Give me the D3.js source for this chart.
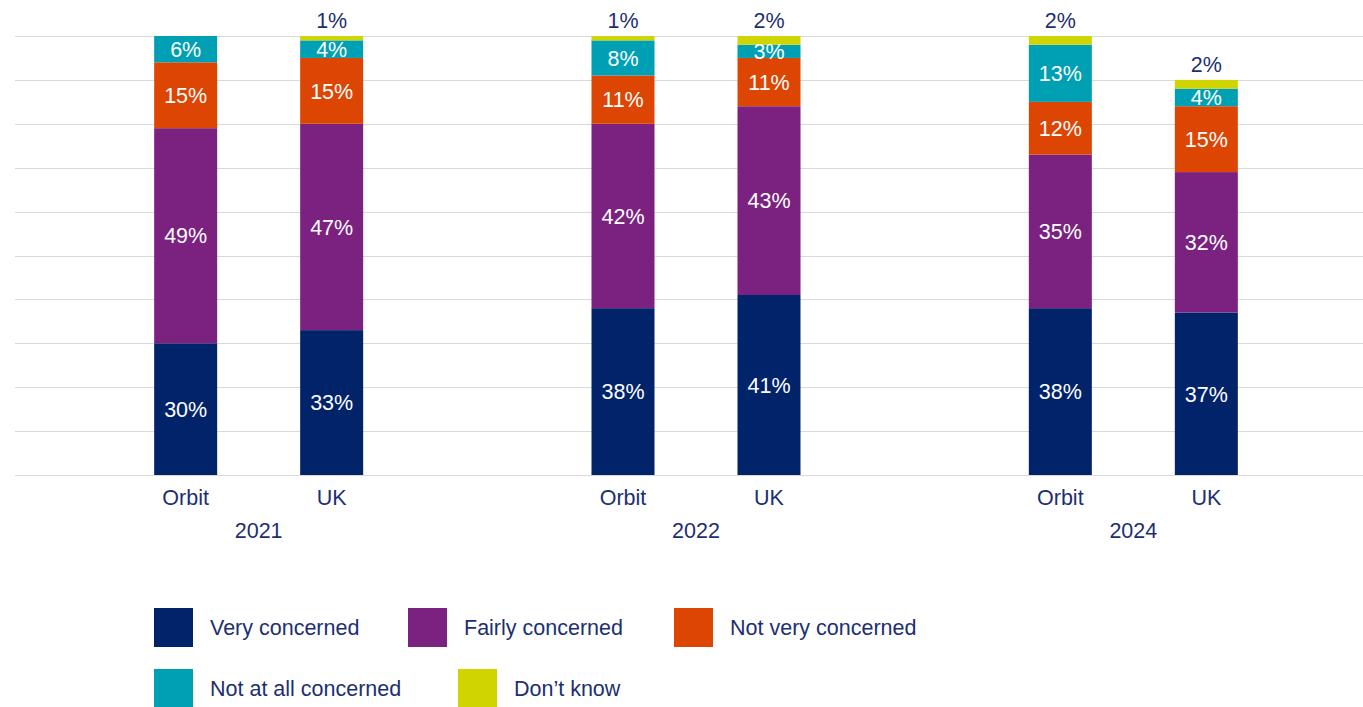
<!DOCTYPE html>
<html>
<head>
<meta charset="utf-8">
<script src="https://cdn.jsdelivr.net/npm/d3@7"></script>
<style>
  html, body { margin: 0; padding: 0; background: #fff; }
  svg { display: block; font-family: "Liberation Sans", Arial, Helvetica, sans-serif; }
</style>
</head>
<body>
<svg id="chart" width="1363" height="707"></svg>
<script>
// Survey responses by year and area (percent of respondents)
const years = ["2021", "2022", "2024"];
const areas = ["Orbit", "UK"];
const seriesNames = ["Very concerned", "Fairly concerned", "Not very concerned", "Not at all concerned", "Don\u2019t know"];
const seriesColors = ["#00236a", "#7b2180", "#dd4503", "#00a0b4", "#d0d400"];
const gridTicks = [0, 10, 20, 30, 40, 50, 60, 70, 80, 90, 100];

// One array per response, ordered 2021 Orbit, 2021 UK, 2022 Orbit, 2022 UK, 2024 Orbit, 2024 UK
const veryConcerned     = [30, 33, 38, 41, 38, 37];
const fairlyConcerned   = [49, 47, 42, 43, 35, 32];
const notVeryConcerned  = [15, 15, 11, 11, 12, 15];
const notAtAllConcerned = [6, 4, 8, 3, 13, 4];
const dontKnow          = [0, 1, 1, 2, 2, 2];

const seriesValues = [veryConcerned, fairlyConcerned, notVeryConcerned, notAtAllConcerned, dontKnow];

const rows = [];
years.forEach((yr, i) => areas.forEach((ar, j) => {
  const k = i * areas.length + j;
  const row = { year: yr, area: ar };
  seriesNames.forEach((s, si) => row[s] = seriesValues[si][k]);
  rows.push(row);
}));

const svg = d3.select("#chart");
const textColor = "#1c2f73";
const fontSize = 21.5;

const y = d3.scaleLinear().domain([0, 100]).range([475, 36]);
const x0 = d3.scaleBand().domain(years).range([40, 1352]).padding(0);
const x1 = d3.scalePoint().domain(areas).range([-73, 73]);
const barW = 63;
const color = d3.scaleOrdinal().domain(seriesNames).range(seriesColors);

// Horizontal gridlines
svg.append("g").selectAll("line").data(gridTicks).join("line")
  .attr("x1", 15).attr("x2", 1363)
  .attr("y1", d => Math.round(y(d)) + 0.5).attr("y2", d => Math.round(y(d)) + 0.5)
  .attr("stroke", "#d9d9d9").attr("stroke-width", 1);

const stacked = d3.stack().keys(seriesNames)(rows);
const cx = d => x0(d.data.year) + x0.bandwidth() / 2 + x1(d.data.area);

const layers = svg.append("g").selectAll("g").data(stacked).join("g")
  .attr("fill", d => color(d.key));

layers.selectAll("rect").data(d => d.filter(p => p[1] > p[0])).join("rect")
  .attr("x", d => cx(d) - barW / 2)
  .attr("width", barW)
  .attr("y", d => y(d[1]))
  .attr("height", d => y(d[0]) - y(d[1]));

// Value labels: inside segments, except "Don't know" which sits above the bar
const labels = svg.append("g").attr("font-size", fontSize).attr("text-anchor", "middle");
stacked.forEach(layer => {
  const isTop = layer.key === seriesNames[seriesNames.length - 1];
  layer.forEach(d => {
    const v = d[1] - d[0];
    if (v <= 0) return;
    labels.append("text")
      .attr("x", cx(d))
      .attr("y", isTop ? y(d[1]) - 8 : (y(d[0]) + y(d[1])) / 2)
      .attr("dy", isTop ? 0 : "0.36em")
      .attr("fill", isTop ? textColor : "#ffffff")
      .text(v + "%");
  });
});

// Category axis: area names and year labels
const axis = svg.append("g").attr("font-size", fontSize).attr("fill", textColor).attr("text-anchor", "middle");
years.forEach(yr => {
  areas.forEach(ar => {
    axis.append("text")
      .attr("x", x0(yr) + x0.bandwidth() / 2 + x1(ar))
      .attr("y", 505)
      .text(ar);
  });
  axis.append("text")
    .attr("x", x0(yr) + x0.bandwidth() / 2)
    .attr("y", 538)
    .text(yr);
});

// Legend in two rows
const legendRows = [[0, 1, 2], [3, 4]];
const legendX = [[154, 408, 674], [154, 458]];
const legendY = [608, 669];
const legend = svg.append("g").attr("font-size", fontSize).attr("fill", textColor);
legendRows.forEach((row, ri) => {
  row.forEach((si, ci) => {
    const lx = legendX[ri][ci];
    legend.append("rect")
      .attr("x", lx).attr("y", legendY[ri])
      .attr("width", 39).attr("height", 39)
      .attr("fill", seriesColors[si]);
    legend.append("text")
      .attr("x", lx + 56).attr("y", legendY[ri] + 19.5)
      .attr("dy", "0.36em")
      .text(seriesNames[si]);
  });
});
</script>
</body>
</html>
